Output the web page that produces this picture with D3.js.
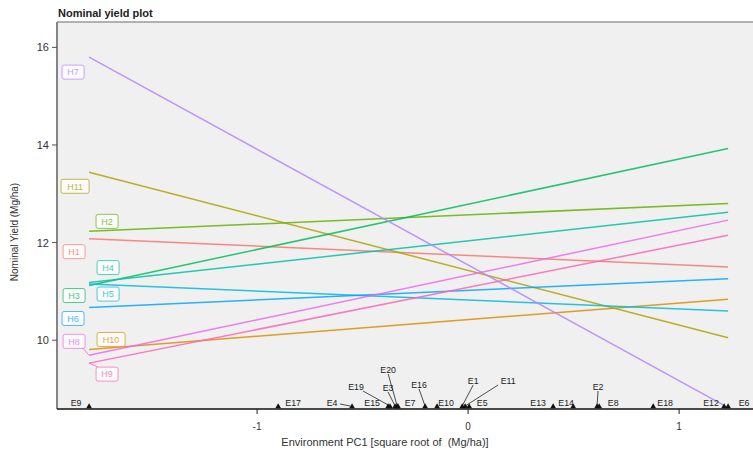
<!DOCTYPE html>
<html><head><meta charset="utf-8">
<script src="https://cdn.jsdelivr.net/npm/d3@7"></script>
<style>body{margin:0;background:#fff;}svg{display:block;font-family:"Liberation Sans",Arial,sans-serif;}</style>
</head><body>
<svg id="c" width="753" height="450"></svg>
<script>
// ---- data ----
const genotypes = ["H1","H10","H11","H2","H3","H4","H5","H6","H7","H8","H9"];
const yieldAtMinEnv = [12.08, 9.81, 13.44, 12.23, 11.12, 11.18, 11.15, 10.67, 15.80, 9.69, 9.53];
const yieldAtMaxEnv = [11.50, 10.84, 10.05, 12.80, 13.93, 12.62, 10.60, 11.26, 8.62, 12.46, 12.15];
const genoColors = ["#F8766D","#DB8E00","#AEA200","#64B200","#00BD5C","#00C1A7","#00BADE","#00A6FF","#B385FF","#EF67EB","#FF63B6"];
const environments = ["E1","E2","E3","E4","E5","E6","E7","E8","E9","E10","E11","E12","E13","E14","E15","E16","E17","E18","E19","E20"];
const envPC1 = [-0.028, 0.611, -0.346, -0.550, 0.005, 1.232, -0.332, 0.621, -1.796, -0.147, -0.014, 1.213, 0.403, 0.498, -0.379, -0.204, -0.900, 0.877, -0.370, -0.336];
const xTicks = [-1, 0, 1];
const yTicks = [10, 12, 14, 16];

// ---- layout (label placement offsets, px) ----
const genoLabelOffset = {H1:[-15,13],H10:[22,-10],H11:[-14,14],H2:[18,-10],H3:[-15,10],H4:[19,-15],H5:[19,10],H6:[-16,11],H7:[-16,15],H8:[-15,-14],H9:[18,11]};
const envLabelOffset = {E1:[11,-28],E2:[1,-22],E3:[-7,-21],E4:[-20,-6],E5:[13,-6],E6:[16,-6],E7:[12,-6],E8:[14,-6],E9:[-13,-6],E10:[9,-6],E11:[43,-28],E12:[-13,-6],E13:[-15,-6],E14:[-7,-6],E15:[-16,-6],E16:[-6,-24],E17:[15,-6],E18:[12,-6],E19:[-34,-22],E20:[-9,-39]};

const svg = d3.select("#c");
const L = 57, T = 22, R = 753, B = 409;
const x = d3.scaleLinear().domain([-1.948, 1.35]).range([L, R]);
const y = d3.scaleLinear().domain([8.59, 16.52]).range([B, T]);

svg.append("defs").append("clipPath").attr("id","pc").append("rect")
  .attr("x",L).attr("y",T).attr("width",R-L+10).attr("height",B-T);

// panel
svg.append("rect").attr("x",L).attr("y",T).attr("width",R-L+10).attr("height",B-T).attr("fill","#f0f0f0");
svg.append("line").attr("x1",L).attr("x2",R).attr("y1",T).attr("y2",T).attr("stroke","#9a9a9a").attr("stroke-width",1.6);
svg.append("line").attr("x1",L).attr("x2",L).attr("y1",T).attr("y2",B).attr("stroke","#858585").attr("stroke-width",2);

// title
svg.append("text").attr("x",58).attr("y",17).attr("font-size",11).attr("font-weight","bold").attr("fill","#222").text("Nominal yield plot");

// y axis ticks
const yAx = svg.append("g");
yTicks.forEach(v=>{
  yAx.append("line").attr("x1",L-5).attr("x2",L).attr("y1",y(v)).attr("y2",y(v)).attr("stroke","#555").attr("stroke-width",1);
  yAx.append("text").attr("x",L-8).attr("y",y(v)+4).attr("text-anchor","end").attr("font-size",11).attr("fill","#333").text(v);
});
svg.append("text").attr("transform",`translate(18,232) rotate(-90)`).attr("text-anchor","middle").attr("font-size",10).attr("fill","#333").text("Nominal Yield (Mg/ha)");

// genotype lines
const envMin = d3.min(envPC1), envMax = d3.max(envPC1);
const lineG = svg.append("g").attr("clip-path","url(#pc)");
genotypes.forEach((g,i)=>{
  lineG.append("line")
    .attr("x1",x(envMin)).attr("y1",y(yieldAtMinEnv[i]))
    .attr("x2",x(envMax)).attr("y2",y(yieldAtMaxEnv[i]))
    .attr("stroke",genoColors[i]).attr("stroke-width",1.5).attr("stroke-opacity",0.85);
});

// genotype labels
const labG = svg.append("g");
genotypes.forEach((g,i)=>{
  const px = x(envMin), py = y(yieldAtMinEnv[i]);
  const [dx,dy] = genoLabelOffset[g];
  const cx = px+dx, cy = py+dy;
  const w = g.length===2 ? 22 : 28, h = 14;
  if (g==="H8"||g==="H9") {
    labG.append("line").attr("x1",cx+(dx<0? w/2-2 : -w/2+2)).attr("y1",cy+(dy<0? h/2 : -h/2))
      .attr("x2",px).attr("y2",py).attr("stroke",genoColors[i]).attr("stroke-width",1).attr("opacity",0.8);
  }
  labG.append("rect").attr("x",cx-w/2).attr("y",cy-h/2).attr("width",w).attr("height",h).attr("rx",2)
    .attr("fill","#fbfbfb").attr("stroke",genoColors[i]).attr("stroke-width",1).attr("stroke-opacity",0.7);
  labG.append("text").attr("x",cx).attr("y",cy+3.2).attr("text-anchor","middle").attr("font-size",9)
    .attr("fill",genoColors[i]).attr("opacity",0.75).text(g);
});

// x axis
svg.append("line").attr("x1",L).attr("x2",R).attr("y1",B).attr("y2",B).attr("stroke","#111").attr("stroke-width",1.6);
xTicks.forEach(v=>{
  svg.append("line").attr("x1",x(v)).attr("x2",x(v)).attr("y1",B).attr("y2",B+5).attr("stroke","#222").attr("stroke-width",1);
  svg.append("text").attr("x",x(v)).attr("y",430).attr("text-anchor","middle").attr("font-size",10).attr("fill","#333").text(v);
});
svg.append("text").attr("x",385).attr("y",446).attr("text-anchor","middle").attr("font-size",11).attr("fill","#333")
  .style("white-space","pre")
  .text("Environment PC1 [square root of  (Mg/ha)]");

// environment markers & labels
const envG = svg.append("g");
environments.forEach((e,i)=>{
  const tx = x(envPC1[i]);
  const [dx,dy] = envLabelOffset[e];
  const lx = tx+dx, ly = B+dy;
  if (dy < -10) {
    envG.append("line").attr("x1",lx + (dx>20? -10 : dx< -20 ? 7 : 0)).attr("y1",ly+4)
      .attr("x2",tx).attr("y2",B-3).attr("stroke","#222").attr("stroke-width",0.8);
  } else if (e==="E4") {
    envG.append("line").attr("x1",lx+8).attr("y1",ly+1).attr("x2",tx-2).attr("y2",B-3).attr("stroke","#222").attr("stroke-width",0.8);
  }
  envG.append("path").attr("d",d3.symbol().type(d3.symbolTriangle).size(14)())
    .attr("transform",`translate(${tx},${B-2.5})`).attr("fill","#111");
  envG.append("text").attr("x",lx).attr("y",ly+3).attr("text-anchor","middle").attr("font-size",8.8).attr("fill","#222").text(e);
});
</script>
</body></html>
